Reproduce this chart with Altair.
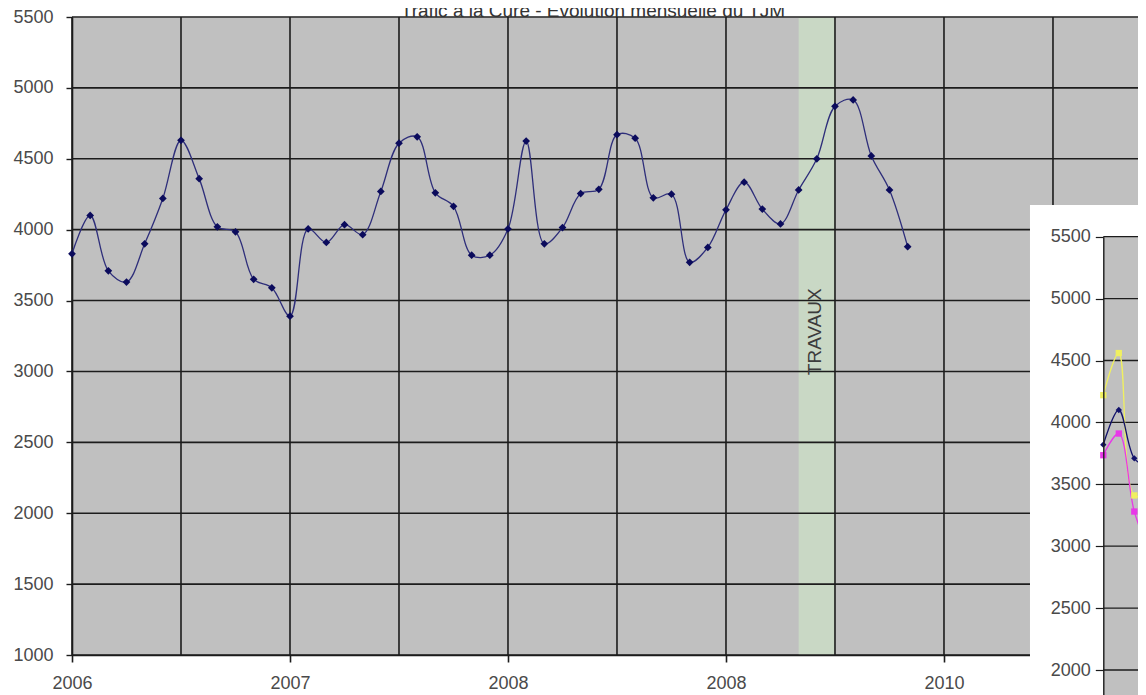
import altair as alt
import pandas as pd

# ---------------- Données principales : TJM mensuel ----------------
mois = [0, 1, 2, 3, 4, 5, 6, 7, 8, 9,
        10, 11, 12, 13, 14, 15, 16, 17, 18, 19,
        20, 21, 22, 23, 24, 25, 26, 27, 28, 29,
        30, 31, 32, 33, 34, 35, 36, 37, 38, 39,
        40, 41, 42, 43, 44, 45, 46]
tjm = [3830, 4100, 3710, 3630, 3900, 4220, 4630, 4360, 4020, 3985,
       3650, 3590, 3390, 4005, 3910, 4035, 3965, 4270, 4610, 4655,
       4260, 4165, 3820, 3820, 4005, 4625, 3900, 4015, 4255, 4285,
       4670, 4645, 4225, 4250, 3770, 3875, 4140, 4335, 4145, 4040,
       4280, 4500, 4870, 4915, 4520, 4280, 3880]

# axes
ticks_annees = [0, 12, 24, 36, 48]
labels_annees = ["2006", "2007", "2008", "2008", "2010"]
grille_mois = [0, 6, 12, 18, 24, 30, 36, 42, 48, 54]
grille_tjm = [1000, 1500, 2000, 2500, 3000, 3500, 4000, 4500, 5000, 5500]

# bande travaux
travaux_debut = [40]
travaux_fin = [42]
travaux_label = ["TRAVAUX"]
travaux_mois = [40.9]
travaux_tjm = [3280]

titre = "Trafic à la Cure - Évolution mensuelle du TJM"

# ---------------- Encart (second graphique recouvrant) ----------------
encart_mois = [0, 1, 2, 3]
encart_bleu = [3820, 4100, 3710, 3630]
encart_magenta = [3735, 3910, 3280, 2950]
encart_jaune = [4220, 4560, 3410, 3420]
encart_grille = [1000, 1500, 2000, 2500, 3000, 3500, 4000, 4500, 5000, 5500]
encart_labels = [2000, 2500, 3000, 3500, 4000, 4500, 5000, 5500]
encart_cadre_mois = [-4.73, 12]
encart_cadre_tjm = [0, 5756]
encart_fond_mois = [0, 12]
encart_fond_tjm = [1000, 5500]

FONT = "Liberation Sans"
GRID = "#1c1c1c"
LABEL = "#4a4a4a"

ticks_js = "[" + ",".join(str(t) for t in ticks_annees) + "]"
labs_js = "[" + ",".join("'" + s + "'" for s in labels_annees) + "]"

xs = alt.Scale(domain=[0, 58.68], nice=False, zero=False)
ys = alt.Scale(domain=[1000, 5500], nice=False, zero=False)

x_axis = alt.Axis(
    values=grille_mois, title=None, grid=False,
    domainColor=GRID, domainWidth=1.6, tickColor=GRID, tickWidth=1.6, tickSize=7,
    tickOpacity={"condition": {"test": "indexof(" + ticks_js + ", datum.value) >= 0", "value": 1}, "value": 0},
    labelExpr="indexof(" + ticks_js + ", datum.value) >= 0 ? " + labs_js + "[indexof(" + ticks_js + ", datum.value)] : ''",
    labelFont=FONT, labelFontSize=18, labelColor=LABEL, labelPadding=12,
    labelFlush=False, labelOverlap=False,
)
y_axis = alt.Axis(
    values=grille_tjm, title=None, grid=False,
    domainColor=GRID, domainWidth=1.6, tickColor=GRID, tickWidth=1.4, tickSize=6,
    labelFont=FONT, labelFontSize=18, labelColor=LABEL, labelPadding=13,
    labelOverlap=False, format="d",
)

df_main = pd.DataFrame({"mois": mois, "tjm": tjm})
df_band = pd.DataFrame({"debut": travaux_debut, "fin": travaux_fin})
df_txt = pd.DataFrame({"mois": travaux_mois, "tjm": travaux_tjm, "label": travaux_label})
df_gx = pd.DataFrame({"mois": grille_mois})
df_gy = pd.DataFrame({"tjm": grille_tjm})

band = alt.Chart(df_band).mark_rect(color="#c9d8c5").encode(
    x=alt.X("debut:Q", scale=xs, axis=x_axis), x2="fin:Q"
)
gx = alt.Chart(df_gx).mark_rule(color=GRID, strokeWidth=1.6).encode(
    x=alt.X("mois:Q", scale=xs, axis=x_axis)
)
gy = alt.Chart(df_gy).mark_rule(color=GRID, strokeWidth=1.6).encode(
    y=alt.Y("tjm:Q", scale=ys, axis=y_axis)
)
line = alt.Chart(df_main).mark_line(interpolate="catmull-rom", color="#2e2e7a", strokeWidth=1.3).encode(
    x=alt.X("mois:Q", scale=xs, axis=x_axis), y=alt.Y("tjm:Q", scale=ys, axis=y_axis)
)
pts = alt.Chart(df_main).mark_point(shape="diamond", filled=True, size=60, color="#0b0b5c", opacity=1).encode(
    x=alt.X("mois:Q", scale=xs, axis=x_axis), y=alt.Y("tjm:Q", scale=ys, axis=y_axis)
)
txt = alt.Chart(df_txt).mark_text(angle=270, font=FONT, fontSize=19, color="#3c3c3c").encode(
    x=alt.X("mois:Q", scale=xs, axis=x_axis), y=alt.Y("tjm:Q", scale=ys, axis=y_axis), text="label:N"
)
main = alt.layer(band, gx, gy, line, pts, txt)

# ---------------- encart ----------------
ixs = alt.Scale(domain=[0, 12], range=[1031.3, 1217.3], nice=False, zero=False)
iys = alt.Scale(domain=[1000, 5500], range=[776.8, 219.7], nice=False, zero=False)
iy_axis = alt.Axis(
    orient="left", offset=-1031.3, values=encart_labels, title=None, grid=False,
    domainColor=GRID, domainWidth=1.4, tickColor=GRID, tickWidth=1.2, tickSize=8,
    labelFont=FONT, labelFontSize=18, labelColor=LABEL, labelPadding=5,
    labelOverlap=False, format="d", zindex=1,
)

df_cadre = pd.DataFrame({"fx0": [encart_cadre_mois[0]], "fx1": [encart_cadre_mois[1]],
                         "fy0": [encart_cadre_tjm[0]], "fy1": [encart_cadre_tjm[1]]})
df_fond = pd.DataFrame({"fx0": [encart_fond_mois[0]], "fx1": [encart_fond_mois[1]],
                        "fy0": [encart_fond_tjm[0]], "fy1": [encart_fond_tjm[1]]})
df_igrid = pd.DataFrame({"gx0": [encart_fond_mois[0]] * len(encart_grille),
                         "gx1": [encart_fond_mois[1]] * len(encart_grille),
                         "val": encart_grille})
series_noms = ["bleu", "magenta", "jaune"]
series_couleurs = ["#12126a", "#e838e8", "#f0f060"]
series_formes = ["diamond", "square", "square"]
df_enc = pd.concat([
    pd.DataFrame({"mois": encart_mois, "tjm": encart_jaune, "serie": "jaune"}),
    pd.DataFrame({"mois": encart_mois, "tjm": encart_magenta, "serie": "magenta"}),
    pd.DataFrame({"mois": encart_mois, "tjm": encart_bleu, "serie": "bleu"}),
])

cadre = alt.Chart(df_cadre).mark_rect(color="white").encode(
    x=alt.X("fx0:Q", scale=ixs, axis=None), x2="fx1:Q",
    y=alt.Y("fy0:Q", scale=iys, axis=iy_axis), y2="fy1:Q",
)
fond = alt.Chart(df_fond).mark_rect(color="#c0c0c0").encode(
    x=alt.X("fx0:Q", scale=ixs, axis=None), x2="fx1:Q",
    y=alt.Y("fy0:Q", scale=iys, axis=iy_axis), y2="fy1:Q",
)
igrid = alt.Chart(df_igrid).mark_rule(color=GRID, strokeWidth=1.3).encode(
    x=alt.X("gx0:Q", scale=ixs, axis=None), x2="gx1:Q",
    y=alt.Y("val:Q", scale=iys, axis=iy_axis),
)
cscale = alt.Scale(domain=series_noms, range=series_couleurs)
ilines = alt.Chart(df_enc).mark_line(interpolate="catmull-rom", strokeWidth=1.3).encode(
    x=alt.X("mois:Q", scale=ixs, axis=None),
    y=alt.Y("tjm:Q", scale=iys, axis=iy_axis),
    color=alt.Color("serie:N", scale=cscale, legend=None),
    detail="serie:N",
)
ipts = alt.Chart(df_enc).mark_point(filled=True, size=40, opacity=1).encode(
    x=alt.X("mois:Q", scale=ixs, axis=None),
    y=alt.Y("tjm:Q", scale=iys, axis=iy_axis),
    color=alt.Color("serie:N", scale=cscale, legend=None),
    shape=alt.Shape("serie:N", scale=alt.Scale(domain=series_noms, range=series_formes), legend=None),
)
encart = alt.layer(cadre, fond, igrid, ilines, ipts)

chart = alt.layer(main, encart).resolve_scale(
    x="independent", y="independent", color="independent", shape="independent"
).properties(
    width=1066,
    height=638,
    title=alt.TitleParams(titre, font=FONT, fontSize=19, fontWeight="normal", color="#333333",
                          anchor="middle", offset=0, dy=13, dx=-12),
    autosize=alt.AutoSizeParams(type="none"),
    padding={"left": 64, "top": 9, "right": 0, "bottom": 45},
).configure(font=FONT).configure_view(fill="#c0c0c0", stroke="transparent")

chart.save("out.html", embed_options={"renderer": "svg", "actions": False})
